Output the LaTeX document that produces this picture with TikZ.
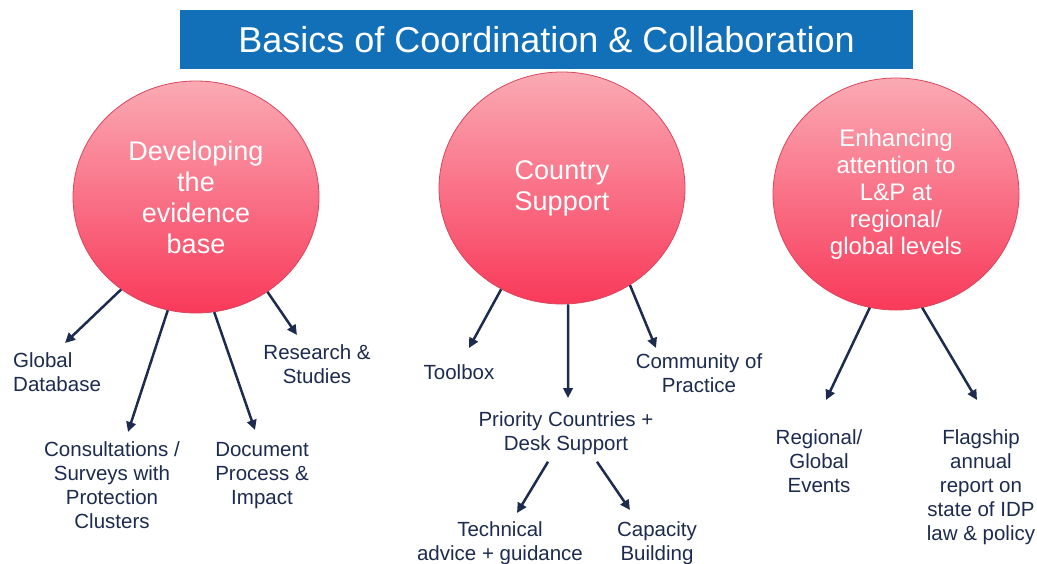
\documentclass[tikz,border=0pt]{standalone}
\usepackage{fontspec}
\setmainfont{Liberation Sans}
\usetikzlibrary{shapes.geometric, arrows.meta}
\definecolor{titleblue}{HTML}{1270B8}
\definecolor{navy}{HTML}{1D2B4F}
\definecolor{pinktop}{HTML}{FAAAB4}
\definecolor{pinkbot}{HTML}{F9395A}
\definecolor{pinkrim}{HTML}{D8475F}

\begin{document}
\begin{tikzpicture}[
    x=1pt, y=-1pt,
    banner/.style={rectangle, fill=titleblue, text=white, minimum width=733pt, minimum height=59pt, inner sep=0pt, font=\fontsize{36}{40}\selectfont},
    topic/.style={ellipse, draw=pinkrim, line width=0.8pt, top color=pinktop, bottom color=pinkbot, minimum width=246pt, minimum height=232pt, inner sep=0pt, text=white, align=center},
    leaf/.style={text=navy, align=center, inner sep=0pt, font=\fontsize{20.5}{24}\selectfont},
    arrow/.style={-{Triangle[length=10pt, width=9.5pt]}, line width=2.5pt, draw=navy}
]
\path[use as bounding box, fill=white] (0,0) rectangle (1037,563);

% title and the three topics
\node[banner] (title) at (546.5,39.5) {Basics of Coordination \& Collaboration};
\node[topic, font=\fontsize{27}{31}\selectfont] (dev) at (196,197) {Developing\\the\\evidence\\base};
\node[topic, font=\fontsize{27}{31}\selectfont] (ctry) at (562,188) {Country\\Support};
\node[topic, font=\fontsize{24}{27}\selectfont] (enh) at (896,194) {Enhancing\\attention to\\L\&P at\\regional/\\global levels};

% leaves
\node[leaf, anchor=west, align=left] (gdb) at (13,372.5) {Global\\Database};
\node[leaf] (res) at (317,364) {Research \&\\Studies};
\node[leaf] (cons) at (112,485) {Consultations /\\Surveys with\\Protection\\Clusters};
\node[leaf] (doc) at (262,475.5) {Document\\Process \&\\Impact};
\node[leaf] (tool) at (459,372.5) {Toolbox};
\node[leaf] (cop) at (699,373) {Community of\\Practice};
\node[leaf] (pri) at (566,433) {Priority Countries +\\Desk Support};
\node[leaf] (tech) at (500,543) {Technical\\advice + guidance};
\node[leaf] (cap) at (657,543) {Capacity\\Building};
\node[leaf] (reg) at (819,461) {Regional/\\Global\\Events};
\node[leaf] (flag) at (981,487.5) {Flagship\\annual\\report on\\state of IDP\\law \& policy};

% arrow tips
\coordinate (gdb tip) at (65,343);
\coordinate (cons tip) at (128,432);
\coordinate (doc tip) at (255,430);
\coordinate (res tip) at (297,335);
\coordinate (tool tip) at (469,348);
\coordinate (pri tip) at (568,398);
\coordinate (cop tip) at (656,348);
\coordinate (tech tip) at (517,513);
\coordinate (cap tip) at (630,510);
\coordinate (reg tip) at (826,400);
\coordinate (flag tip) at (977,400);

\draw[arrow] (dev.231) -- (gdb tip);
\draw[arrow] (dev.256) -- (cons tip);
\draw[arrow] (dev.279) -- (doc tip);
\draw[arrow] (dev.307) -- (res tip);
\draw[arrow] (ctry.239.5) -- (tool tip);
\draw[arrow] (ctry.273) -- (pri tip);
\draw[arrow] (ctry.305) -- (cop tip);
\draw[arrow] ([xshift=-18pt,yshift=-7pt]pri.south) -- (tech tip);
\draw[arrow] ([xshift=31pt,yshift=-7pt]pri.south) -- (cap tip);
\draw[arrow] (enh.257) -- (reg tip);
\draw[arrow] (enh.283) -- (flag tip);
\end{tikzpicture}
\end{document}
